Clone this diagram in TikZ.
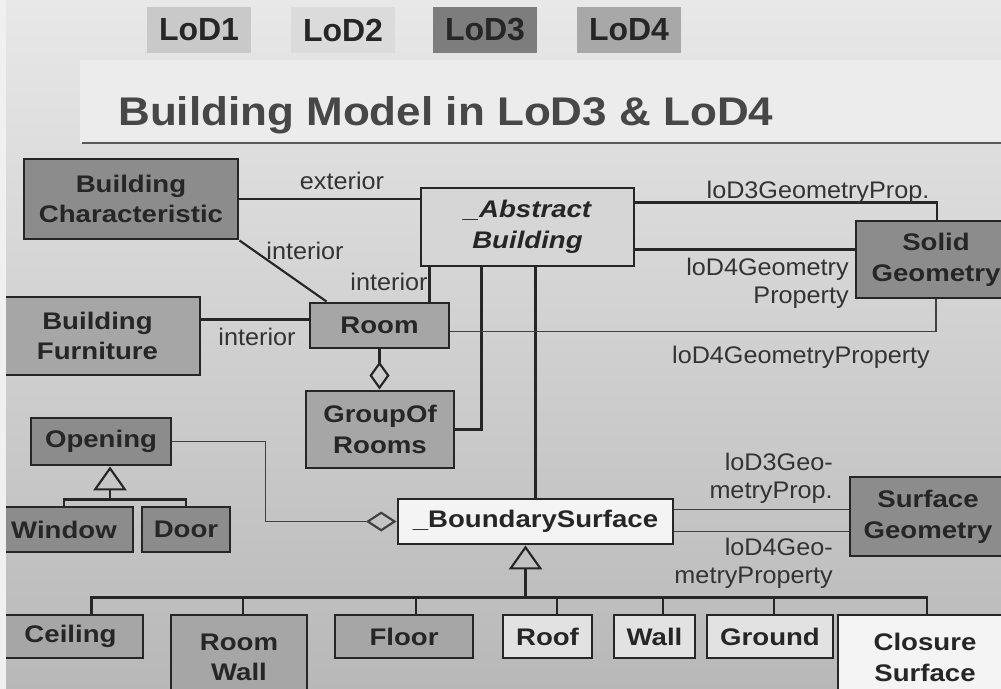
\documentclass[tikz,border=0pt]{standalone}
\usepackage{fontspec}
\setmainfont{Liberation Sans}
\newfontfamily\boxfont[FakeStretch=1.15]{Liberation Sans}
\newfontfamily\labelfont[FakeStretch=1.05]{Liberation Sans}
\newfontfamily\titlefont[FakeStretch=1.1]{Liberation Sans}
\usepackage{xcolor}
\usetikzlibrary{arrows.meta,calc,positioning}

\definecolor{bgtop}{HTML}{E8E8E8}
\definecolor{bgbot}{HTML}{B8B8B8}
\definecolor{panel}{HTML}{ECECEC}
\definecolor{boxdark}{HTML}{8C8C8C}
\definecolor{boxmid}{HTML}{A6A6A6}
\definecolor{boxab}{HTML}{D6D6D6}
\definecolor{boxlight}{HTML}{E2E2E2}
\definecolor{boxwhite}{HTML}{F4F4F4}

\begin{document}
\begin{tikzpicture}[
  x=0.75pt, y=-0.75pt,
  every node/.style={align=center},
  wh/.style 2 args={minimum width=#1pt, minimum height=#2pt},
  umlbox/.style={rectangle, draw=black!85, fill=#1, line width=2.2pt, inner sep=0pt, text=black!85, font={\boxfont\bfseries\fontsize{18}{23}\selectfont}},
  lodbox/.style={rectangle, fill=#1, inner sep=0pt, wh={78}{34.5}, text=black!85, font={\bfseries\fontsize{24}{28}\selectfont}},
  lab/.style={inner sep=0pt, text=black!80, font={\labelfont\fontsize{18}{21}\selectfont}},
  conn/.style={draw=black!85, line width=1.6pt},
  thinconn/.style={draw=black!75, line width=1.2pt},
  heavyconn/.style={draw=black!85, line width=2.2pt},
  agg/.style={-{Diamond[open, length=#1, width=15pt, line width=1.6pt]}},
  agg/.default=21pt,
  gen/.style={-{Triangle[open, length=18pt, width=25pt, line width=1.6pt]}}
]
  \useasboundingbox (0,0) rectangle (1001,689);
  \clip (0,0) rectangle (1001,689);

  % background and title panel
  \shade[top color=bgtop, bottom color=bgbot] (0,0) rectangle (1001,689);
  \fill[panel] (80,60) rectangle (1001,143);
  \draw[line width=1.8pt, draw=black!65] (82,143) -- (1001,143);

  % level of detail tabs
  \node[lodbox=black!21] (lod1) at (199,30) {LoD1};
  \node[lodbox=black!14] (lod2) at (343,30) {LoD2};
  \node[lodbox=black!51] (lod3) at (485,30) {LoD3};
  \node[lodbox=black!34] (lod4) at (629,30) {LoD4};
  \node[inner sep=0pt, anchor=base west, text=black!72, font={\titlefont\bfseries\fontsize{30}{34}\selectfont}] (title) at (118,125) {Building Model in LoD3 \& LoD4};

  % classes
  \node[umlbox=boxdark, wh={160.5}{60}] (bc) at (131,199) {Building\\Characteristic};
  \node[umlbox=boxab, wh={159.75}{58.5}] (ab) at (527.5,227) {\itshape \_Abstract\\\itshape Building};
  \node[umlbox=boxdark, wh={120}{57.75}] (sg) at (936,259.5) {Solid\\Geometry};
  \node[umlbox=boxmid, wh={153.75}{58.5}] (bf) at (97.5,336) {Building\\Furniture};
  \node[umlbox=boxmid, wh={104.25}{33.75}] (room) at (379.5,325.5) {Room};
  \node[umlbox=boxmid, wh={111}{57.75}] (gor) at (380,429.5) {GroupOf\\Rooms};
  \node[umlbox=boxdark, wh={105}{35.25}] (op) at (101,441.5) {Opening};
  \node[umlbox=boxdark, wh={103.5}{33.75}] (win) at (64,529.5) {Window};
  \node[umlbox=boxdark, wh={66}{33.75}] (door) at (186,529.5) {Door};
  \node[umlbox=boxwhite, wh={206.25}{33.75}] (bs) at (535.5,521.5) {\_BoundarySurface};
  \node[umlbox=boxdark, wh={117}{59.25}] (sfg) at (928,516.5) {Surface\\Geometry};

  % boundary surface subclasses
  \node[umlbox=boxmid, wh={108.75}{32.25}] (ceil) at (70.5,636.5) {Ceiling};
  \node[umlbox=boxmid, wh={102}{63.75}] (rwall) at (239,657.5) {Room\\Wall};
  \node[umlbox=boxmid, wh={103.5}{32.25}] (floor) at (404,636.5) {Floor};
  \node[umlbox=boxlight, wh={66.75}{32.25}] (roof) at (547.5,636.5) {Roof};
  \node[umlbox=boxlight, wh={60.75}{32.25}] (wall) at (654.5,636.5) {Wall};
  \node[umlbox=boxlight, wh={94.5}{32.25}] (ground) at (770,636.5) {Ground};
  \node[umlbox=boxwhite, wh={130.5}{63.75}] (clos) at (925,657.5) {Closure\\Surface};

  % associations
  \draw[conn] (bc.east) -- (bc.east -| ab.west);
  \draw[conn] (bc.south east) -- ($(room.north west)+(18,0)$);
  \draw[conn] ($(room.west)+(0,-6)$) coordinate (r1) -- (r1 -| bf.east);
  \draw[heavyconn] ($(ab.south west)+(10,0)$) coordinate (a3) -- (a3 |- room.north);
  \draw[heavyconn] (gor.east) -| ($(ab.south west)+(62,0)$);
  \draw[conn, agg] (room.south) -- (room.south |- gor.north);
  \draw[conn] (bs.north) -- (bs.north |- ab.south);
  \draw[conn] ($(ab.north east)+(0,16)$) -| ($(sg.north)+(1,0)$);
  \draw[conn] ($(ab.south east)+(0,-18)$) coordinate (a2) -- (a2 -| sg.west);
  \draw[thinconn] ($(room.east)+(0,6)$) -| (sg.south);
  \draw[thinconn, agg=23pt] (op.east) -- ++(93,0) |- (bs.west);
  \draw[thinconn] ($(bs.east)+(0,-12)$) coordinate (b1) -- (b1 -| sfg.west);
  \draw[thinconn] ($(bs.east)+(0,10)$) coordinate (b2) -- (b2 -| sfg.west);

  % generalizations
  \coordinate (opbar) at ($(op.south)+(9,33)$);
  \draw[conn] (win.north) |- (opbar) -| (door.north);
  \draw[conn, gen] (opbar) -- ($(op.south)+(9,0)$);
  \coordinate (bsbar) at ($(bs.south)+(-10,52)$);
  \draw[conn, gen] (bsbar) -- ($(bs.south)+(-10,0)$);
  \draw[conn] ($(ceil.north)+(21,0)$) |- (bsbar) -| ($(clos.north)+(2,0)$);
  \foreach \n/\dx in {rwall/4, floor/12, roof/9.5, wall/8.5, ground/4}
    \draw[conn] ($(\n.north)+(\dx,0)$) coordinate (tmp) -- (tmp |- bsbar);

  % role labels
  \node[lab, anchor=base] (lext) at (342,189) {exterior};
  \node[lab, anchor=base] (lint1) at (305,259) {interior};
  \node[lab, anchor=base] (lint2) at (389,290) {interior};
  \node[lab, anchor=base] (lint3) at (257,345) {interior};
  \node[lab, anchor=base] (lsg3) at (818,198) {loD3GeometryProp.};
  \node[lab, anchor=east, align=right] (lsg4) at (849,283) {loD4Geometry\\Property};
  \node[lab, anchor=base] (lroom) at (801,363) {loD4GeometryProperty};
  \node[lab, anchor=east, align=right] (lbs3) at (833,478) {loD3Geo-\\metryProp.};
  \node[lab, anchor=east, align=right] (lbs4) at (833,563) {loD4Geo-\\metryProperty};

  % light left edge
  \fill[white!94!black] (0,0) rectangle (6,689);
\end{tikzpicture}
\end{document}
